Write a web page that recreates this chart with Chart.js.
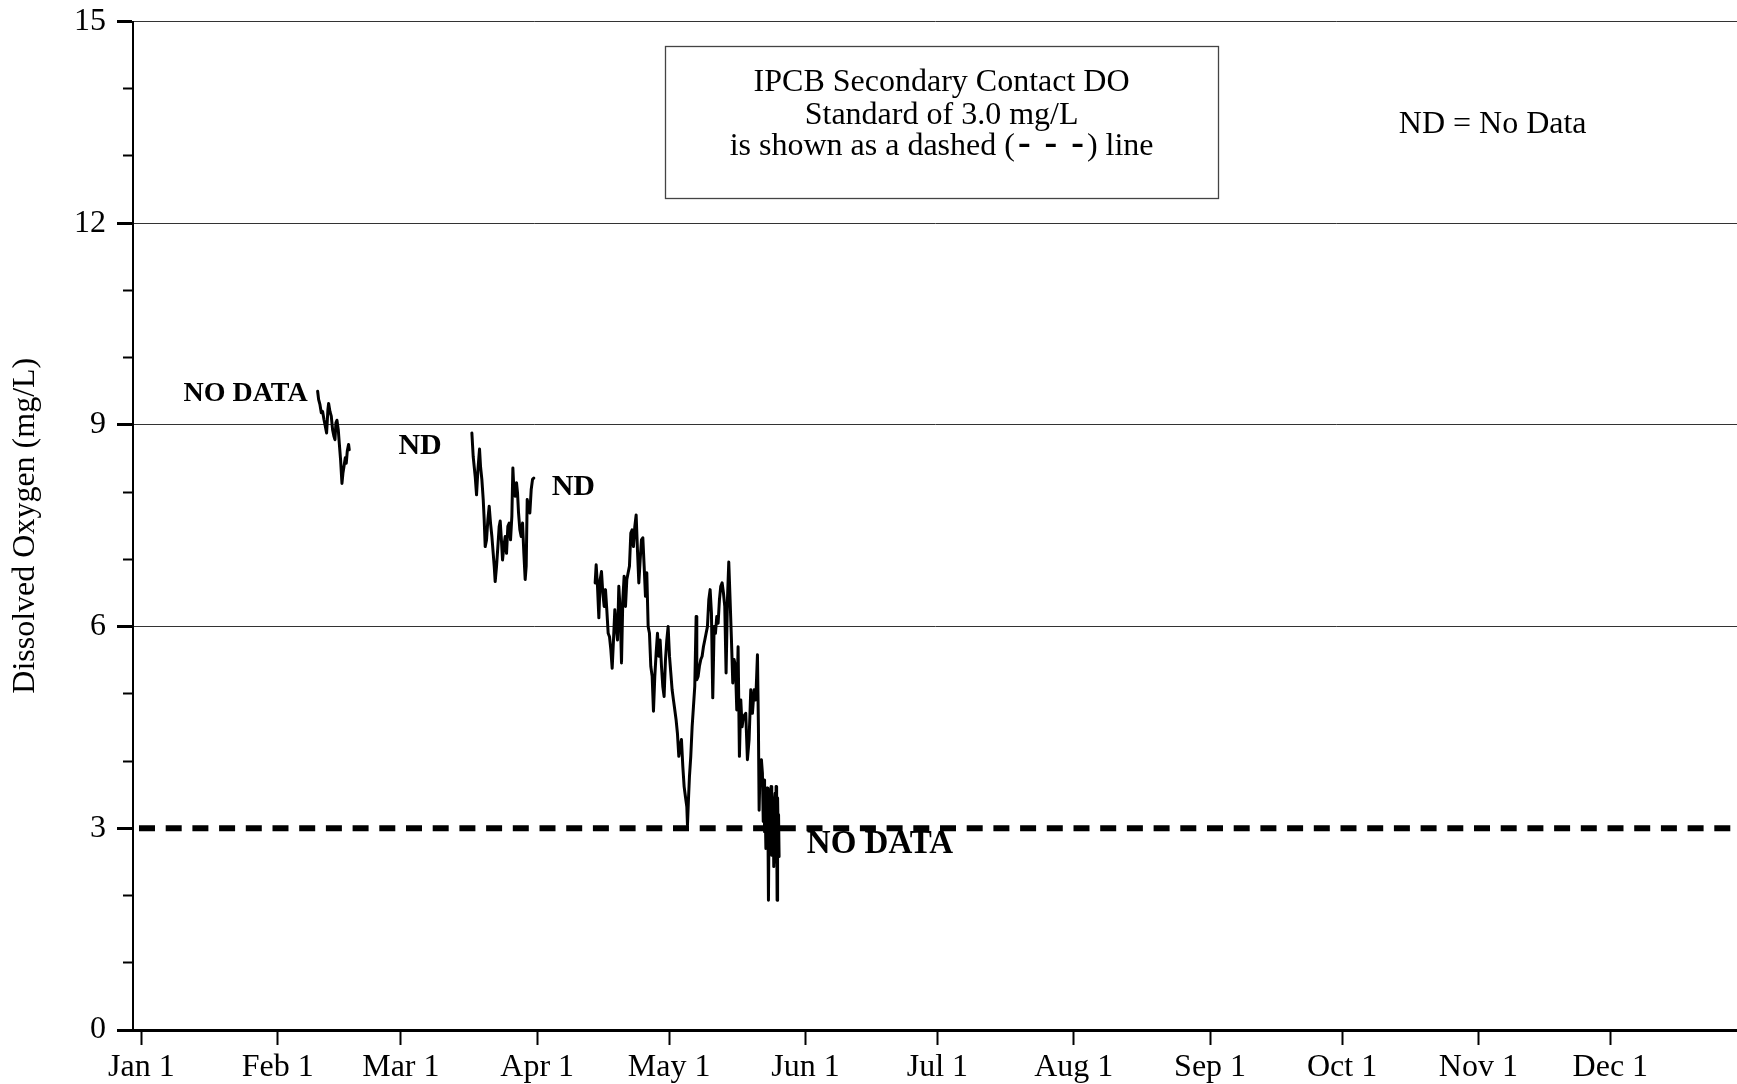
<!DOCTYPE html>
<html>
<head>
<meta charset="utf-8">
<script src="https://cdn.jsdelivr.net/npm/chart.js@4.4.1/dist/chart.umd.min.js"></script>
<style>
  html, body { margin: 0; padding: 0; background: #fff; }
  canvas { display: block; }
</style>
</head>
<body>
<canvas id="c" width="1737" height="1084"></canvas>
<script>
// ---------------- DATA ----------------
// x-axis: day of year (0 = Jan 1)
const monthTickDays   = [0, 31, 59, 90, 120, 151, 181, 212, 243, 273, 304, 334];
const monthTickLabels = ['Jan 1','Feb 1','Mar 1','Apr 1','May 1','Jun 1','Jul 1','Aug 1','Sep 1','Oct 1','Nov 1','Dec 1'];
const yMajorTicks = [0, 3, 6, 9, 12, 15];
const yMinorTicks = [1, 2, 4, 5, 7, 8, 10, 11, 13, 14];

// Dissolved oxygen (mg/L), February segment
const febDays = [40.08,40.30,40.61,40.91,41.21,41.52,41.82,42.12,42.42,42.58,42.88,43.18,43.48,43.79,44.02,44.24,44.47,44.77,45.00,45.30,45.61,45.83,46.14,46.36,46.59,46.82,47.12,47.27];
const febDO   = [9.50,9.38,9.30,9.18,9.20,9.08,8.98,8.88,9.23,9.32,9.20,9.13,8.93,8.83,8.78,9.03,9.07,8.93,8.73,8.48,8.13,8.28,8.41,8.51,8.43,8.61,8.71,8.63];

// March segment
const marDays = [75.15,75.45,75.68,75.91,76.21,76.52,76.89,77.12,77.42,77.73,77.95,78.18,78.48,78.79,79.09,79.39,79.70,80.00,80.23,80.45,80.76,81.06,81.36,81.59,81.82,82.12,82.42,82.73,83.03,83.33,83.64,83.94,84.24,84.47,84.70,85.00,85.30,85.53,85.76,86.06,86.36,86.67,86.97,87.27,87.50,87.73,88.03,88.33,88.64,88.94,89.24];
const marDO   = [8.88,8.53,8.38,8.23,7.96,8.33,8.64,8.38,8.19,7.89,7.59,7.19,7.29,7.59,7.79,7.54,7.34,7.09,6.90,6.67,6.90,7.19,7.49,7.57,7.34,6.99,7.19,7.34,7.09,7.49,7.54,7.29,7.64,8.36,8.04,7.94,8.14,7.99,7.69,7.44,7.34,7.54,7.09,6.70,6.90,7.89,7.79,7.69,8.04,8.19,8.21];

// April - May segment
const aprMayDays = [103.18,103.41,103.71,104.02,104.32,104.62,104.92,105.23,105.53,105.83,106.14,106.44,106.74,107.05,107.35,107.65,107.95,108.26,108.56,108.86,109.17,109.47,109.77,110.08,110.38,110.68,110.98,111.29,111.59,111.89,112.20,112.50,112.80,113.11,113.41,113.71,114.02,114.32,114.62,114.92,115.23,115.53,115.83,116.14,116.44,116.74,117.05,117.35,117.65,117.95,118.26,118.56,118.86,119.17,119.47,119.77,120.08,120.38,120.68,120.98,121.29,121.59,121.89,122.20,122.50,122.80,123.11,123.41,123.71,124.02,124.17,124.39,124.62,124.92,125.23,125.53,125.83,126.14,126.29,126.59,126.89,127.20,127.50,127.80,128.11,128.41,128.71,129.02,129.32,129.62,129.92,130.23,130.53,130.83,131.14,131.44,131.74,132.05,132.35,132.65,132.95,133.26,133.56,133.86,134.17,134.47,134.77,135.08,135.38,135.68,135.98,136.29,136.59,136.89,137.42,137.80,138.18,138.56,138.94,139.32,139.70,140.08,140.30,140.46,140.68,140.98,141.21,141.40,141.59,141.70,141.82,142.00,142.12,142.27,142.42,142.58,142.74,142.88,143.03,143.18,143.33,143.49,143.64,143.79,143.94,144.09,144.20,144.32,144.44,144.55,144.66,144.77,144.88,145.00];
const aprMayDO   = [6.65,6.92,6.60,6.13,6.70,6.82,6.50,6.30,6.55,6.25,5.90,5.85,5.66,5.38,5.80,6.25,6.00,5.80,6.60,6.25,5.46,6.40,6.75,6.30,6.70,6.80,6.90,7.39,7.44,7.19,7.49,7.66,7.14,6.65,6.99,7.29,7.32,6.90,6.45,6.80,6.00,5.90,5.41,5.26,4.74,5.26,5.61,5.90,5.56,5.80,5.41,5.11,4.96,5.51,5.80,6.00,5.56,5.31,5.06,4.91,4.76,4.61,4.41,4.07,4.22,4.32,3.92,3.62,3.47,3.32,3.05,3.42,3.77,4.07,4.51,4.81,5.11,6.15,5.21,5.26,5.41,5.51,5.56,5.70,5.80,5.90,6.00,6.40,6.55,6.20,4.94,6.00,5.90,6.15,6.05,6.40,6.60,6.65,6.50,6.30,5.31,6.40,6.96,6.40,5.80,5.16,5.51,5.41,4.76,5.70,4.07,4.91,4.51,4.66,4.71,4.02,4.32,5.06,4.71,5.06,4.91,5.58,4.51,3.27,3.92,4.02,3.82,3.10,3.72,2.95,3.42,2.70,2.83,3.60,3.52,1.93,3.30,2.93,3.55,3.62,2.60,3.22,3.45,2.43,3.40,3.52,2.50,3.62,3.30,1.93,3.45,2.98,3.20,2.58];

// IPCB secondary contact DO standard
const standardDays = [-1.9, 362.8];
const standardDO   = [3.0, 3.0];

// ---------------- CHART ----------------
const FONT = '"Liberation Serif", "Times New Roman", Times, serif';
Chart.defaults.font.family = FONT;
Chart.defaults.color = '#000';

const toXY = (xs, ys) => xs.map((d, i) => ({ x: d, y: ys[i] }));

const annotationPlugin = {
  id: 'annotations',
  afterDatasetsDraw(chart) {
    const { ctx } = chart;
    const xs = chart.scales.x, ys = chart.scales.y;
    const px = v => xs.getPixelForValue(v);
    const py = v => ys.getPixelForValue(v);
    ctx.save();
    // Standard box
    const bx1 = Math.round(px(119.0)) + 0.5, bx2 = Math.round(px(244.9)) + 0.5;
    const by1 = Math.round(py(14.64)) + 0.5, by2 = Math.round(py(12.38)) + 0.5;
    ctx.strokeStyle = '#444';
    ctx.lineWidth = 1.3;
    ctx.strokeRect(bx1, by1, bx2 - bx1, by2 - by1);

    ctx.fillStyle = '#000';
    ctx.textBaseline = 'alphabetic';
    const cx = px(181.95);
    ctx.textAlign = 'center';
    ctx.font = '32px ' + FONT;
    ctx.fillText('IPCB Secondary Contact DO', cx, py(13.97));
    ctx.fillText('Standard of 3.0 mg/L', cx, py(13.48));
    // third line: "is shown as a dashed (- - -) line" with bold short dashes
    const p1 = 'is shown as a dashed (', p3 = ') line';
    ctx.font = '32px ' + FONT;
    const w1 = ctx.measureText(p1).width, w3 = ctx.measureText(p3).width;
    const w2 = 72; // space occupied by the three dashes
    let sx = cx - (w1 + w2 + w3) / 2;
    const ly = py(13.01);
    ctx.textAlign = 'left';
    ctx.fillText(p1, sx, ly);
    ctx.fillText(p3, sx + w1 + w2, ly);
    ctx.font = 'bold 38px ' + FONT;
    ctx.textAlign = 'center';
    const dashPos = [0.13, 0.5, 0.87];
    for (const f of dashPos) {
      ctx.fillText('-', sx + w1 + w2 * f, ly - 1);
    }

    // ND legend
    ctx.textAlign = 'left';
    ctx.font = '32px ' + FONT;
    ctx.fillText('ND = No Data', px(285.9), py(13.34));

    // No data labels
    ctx.font = 'bold 28px ' + FONT;
    ctx.fillText('NO DATA', px(9.57), py(9.35));
    ctx.font = 'bold 30px ' + FONT;
    ctx.fillText('ND', px(58.45), py(8.56));
    ctx.fillText('ND', px(93.3), py(7.96));
    ctx.font = 'bold 33px ' + FONT;
    ctx.fillText('NO DATA', px(151.3), py(2.63));
    ctx.restore();
  }
};

const lineStyle = { borderColor: '#000', borderWidth: 3, borderJoinStyle: 'round', borderCapStyle: 'round',
                    pointRadius: 0, tension: 0, fill: false, xAxisID: 'x', yAxisID: 'y' };

new Chart(document.getElementById('c'), {
  type: 'line',
  data: {
    datasets: [
      Object.assign({ label: 'Feb', data: toXY(febDays, febDO) }, lineStyle),
      Object.assign({ label: 'Mar', data: toXY(marDays, marDO) }, lineStyle),
      Object.assign({ label: 'AprMay', data: toXY(aprMayDays, aprMayDO) }, lineStyle),
      { label: 'Standard', data: toXY(standardDays, standardDO), borderColor: '#000', borderWidth: 6,
        borderDash: [16, 10.7], borderDashOffset: -6, pointRadius: 0, fill: false, xAxisID: 'x', yAxisID: 'y' }
    ]
  },
  options: {
    responsive: false,
    animation: false,
    devicePixelRatio: 1,
    layout: { padding: { top: 21.5, right: 0, bottom: 0, left: 0 } },
    plugins: { legend: { display: false }, tooltip: { enabled: false } },
    scales: {
      x: {
        type: 'linear',
        position: 'bottom',
        min: -1.9,
        max: 362.8,
        afterBuildTicks: axis => { axis.ticks = monthTickDays.map(v => ({ value: v })); },
        afterFit: s => { s.height = 54; s.paddingLeft = 0; s.paddingRight = 0; },
        ticks: {
          autoSkip: false, maxRotation: 0, minRotation: 0, padding: 3,
          font: { size: 32, family: FONT }, color: '#000',
          callback: (v, i) => monthTickLabels[i]
        },
        grid: { drawOnChartArea: false, drawTicks: true, tickLength: 15, tickWidth: 2, tickColor: '#000' },
        border: { display: true, color: '#000', width: 3 }
      },
      y: {
        type: 'linear',
        position: 'left',
        weight: 1,
        min: 0,
        max: 15,
        afterBuildTicks: axis => { axis.ticks = yMajorTicks.map(v => ({ value: v })); },
        afterFit: s => { s.width = 133; s.paddingTop = 0; s.paddingBottom = 0; },
        ticks: { font: { size: 32, family: FONT }, color: '#000', padding: 11 },
        grid: {
          color: ctx => (ctx.tick && (ctx.tick.value === 0 || ctx.tick.value === 3)) ? 'rgba(0,0,0,0)' : '#333',
          lineWidth: 1, drawTicks: true, tickLength: 16, tickWidth: 3, tickColor: '#000'
        },
        border: { display: true, color: '#000', width: 2 },
        title: { display: true, text: 'Dissolved Oxygen (mg/L)', font: { size: 32, family: FONT }, color: '#000', padding: { top: 6, bottom: 0 } }
      },
      yMinor: {
        type: 'linear',
        position: 'left',
        weight: 0,
        min: 0,
        max: 15,
        afterBuildTicks: axis => { axis.ticks = yMinorTicks.map(v => ({ value: v })); },
        afterFit: s => { s.width = 0; s.paddingTop = 0; s.paddingBottom = 0; },
        ticks: { display: false },
        grid: { drawOnChartArea: false, drawTicks: true, tickLength: 10, tickWidth: 2, tickColor: '#000' },
        border: { display: false }
      }
    }
  },
  plugins: [annotationPlugin]
});
</script>
</body>
</html>
